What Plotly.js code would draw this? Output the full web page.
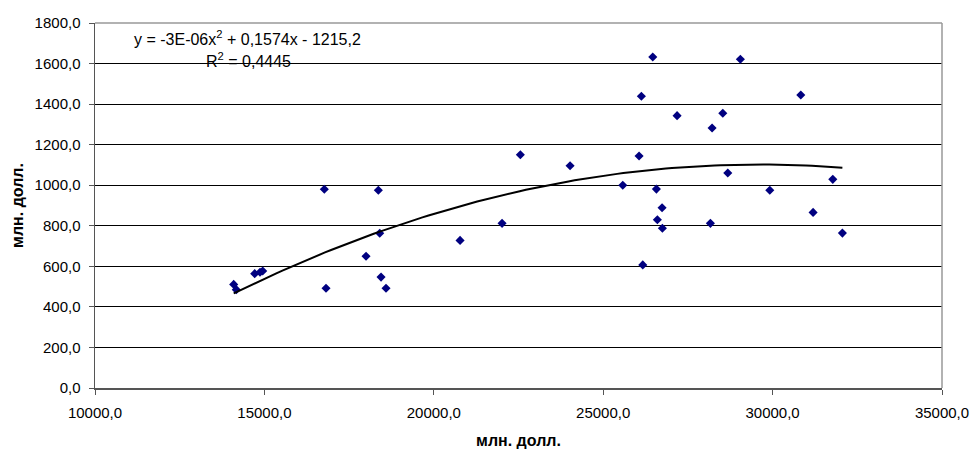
<!DOCTYPE html>
<html>
<head>
<meta charset="utf-8">
<script src="https://cdn.plot.ly/plotly-3.0.1.min.js"></script>
<style>html,body{margin:0;padding:0;background:#fff;}#chart{width:974px;height:449px;}</style>
</head>
<body>
<div id="chart"></div>
<script>
const xValues = [14094,14171,14714,14871,14950,16769,16819,18000,18363,18404,18443,18590,20775,22015,22555,24022,25578,26059,26127,26168,26463,26570,26599,26738,26747,27181,28164,28214,28530,28677,29049,29917,30832,31195,31777,32060];
const yValues = [511,485,564,571,577,980,492,650,975,763,547,492,728,812,1150,1096,1000,1144,1439,607,1632,981,830,889,788,1343,812,1282,1355,1060,1621,975,1445,866,1029,764];
const xTickVals = [10000,15000,20000,25000,30000,35000];
const xTickText = ["10000,0","15000,0","20000,0","25000,0","30000,0","35000,0"];
const yTickVals = [0,200,400,600,800,1000,1200,1400,1600,1800];
const yTickText = ["0,0","200,0","400,0","600,0","800,0","1000,0","1200,0","1400,0","1600,0","1800,0"];
const axisTitle = "млн. долл.";
const eqText = "y = -3E-06x<sup>2</sup> + 0,1574x - 1215,2";
const r2Text = "R<sup>2</sup> = 0,4445";

// quadratic least-squares trendline computed from the data
function quadFit(xs, ys) {
  const n = xs.length, m = 20000;
  let S = [0,0,0,0,0], T = [0,0,0];
  for (let i = 0; i < n; i++) {
    const u = (xs[i] - m) / 10000;
    let p = 1;
    for (let k = 0; k < 5; k++) { S[k] += p; if (k < 3) T[k] += p * ys[i]; p *= u; }
  }
  const A = [[S[0],S[1],S[2],T[0]],[S[1],S[2],S[3],T[1]],[S[2],S[3],S[4],T[2]]];
  for (let i = 0; i < 3; i++) {
    for (let j = i + 1; j < 3; j++) {
      const f = A[j][i] / A[i][i];
      for (let k = i; k < 4; k++) A[j][k] -= f * A[i][k];
    }
  }
  const c = [0,0,0];
  for (let i = 2; i >= 0; i--) {
    let s = A[i][3];
    for (let k = i + 1; k < 3; k++) s -= A[i][k] * c[k];
    c[i] = s / A[i][i];
  }
  return x => { const u = (x - m) / 10000; return c[0] + c[1]*u + c[2]*u*u; };
}
const fit = quadFit(xValues, yValues);
const xMin = Math.min(...xValues), xMax = Math.max(...xValues);
const tx = [], ty = [];
for (let i = 0; i <= 100; i++) { const x = xMin + (xMax - xMin) * i / 100; tx.push(x); ty.push(fit(x)); }

const fam = "Liberation Sans, Arial, sans-serif";
const font = {family: fam, size: 15, color: "#000"};
const titleFont = {family: fam, size: 16, color: "#000", weight: "bold"};
Plotly.newPlot("chart", [
  {x: xValues, y: yValues, type: "scatter", mode: "markers",
   marker: {symbol: "diamond", size: 7, color: "#000080"}, hoverinfo: "x+y"},
  {x: tx, y: ty, type: "scatter", mode: "lines", line: {color: "#000", width: 2}, hoverinfo: "skip"}
], {
  width: 974, height: 449,
  margin: {l: 95, r: 32, t: 23, b: 61},
  paper_bgcolor: "#fff", plot_bgcolor: "#fff",
  showlegend: false, font: font,
  xaxis: {range: [10000, 35000], tickvals: xTickVals, ticktext: xTickText, tickfont: font,
    showgrid: false, zeroline: false, showline: true, linecolor: "#555", linewidth: 1.5,
    mirror: false, ticks: "outside", ticklen: 5, tickcolor: "#555", ticklabelstandoff: 5,
    title: {text: axisTitle, font: titleFont, standoff: 18}},
  yaxis: {range: [0, 1800], tickvals: yTickVals, ticktext: yTickText, tickfont: font,
    showgrid: true, gridcolor: "#000", gridwidth: 1, zeroline: false,
    showline: true, linecolor: "#555", linewidth: 1.5, ticks: "outside", ticklen: 5, tickcolor: "#555",
    ticklabelstandoff: 5,
    title: {text: axisTitle, font: titleFont, standoff: 7}},
  shapes: [
    {type: "line", xref: "paper", yref: "paper", x0: 0, x1: 1, y0: 1, y1: 1, line: {color: "#999", width: 1.5}},
    {type: "line", xref: "paper", yref: "paper", x0: 1, x1: 1, y0: 0, y1: 1, line: {color: "#999", width: 1.5}}
  ],
  annotations: [
    {xref: "paper", yref: "paper", x: (247 - 95) / 847, y: (388 - 38) / 365, text: eqText, showarrow: false,
     font: {family: fam, size: 16, color: "#000"}, xanchor: "center", yanchor: "middle"},
    {xref: "paper", yref: "paper", x: (248 - 95) / 847, y: (388 - 60) / 365, text: r2Text, showarrow: false,
     font: {family: fam, size: 16, color: "#000"}, xanchor: "center", yanchor: "middle"}
  ]
}, {displayModeBar: false, staticPlot: true});
</script>
</body>
</html>
